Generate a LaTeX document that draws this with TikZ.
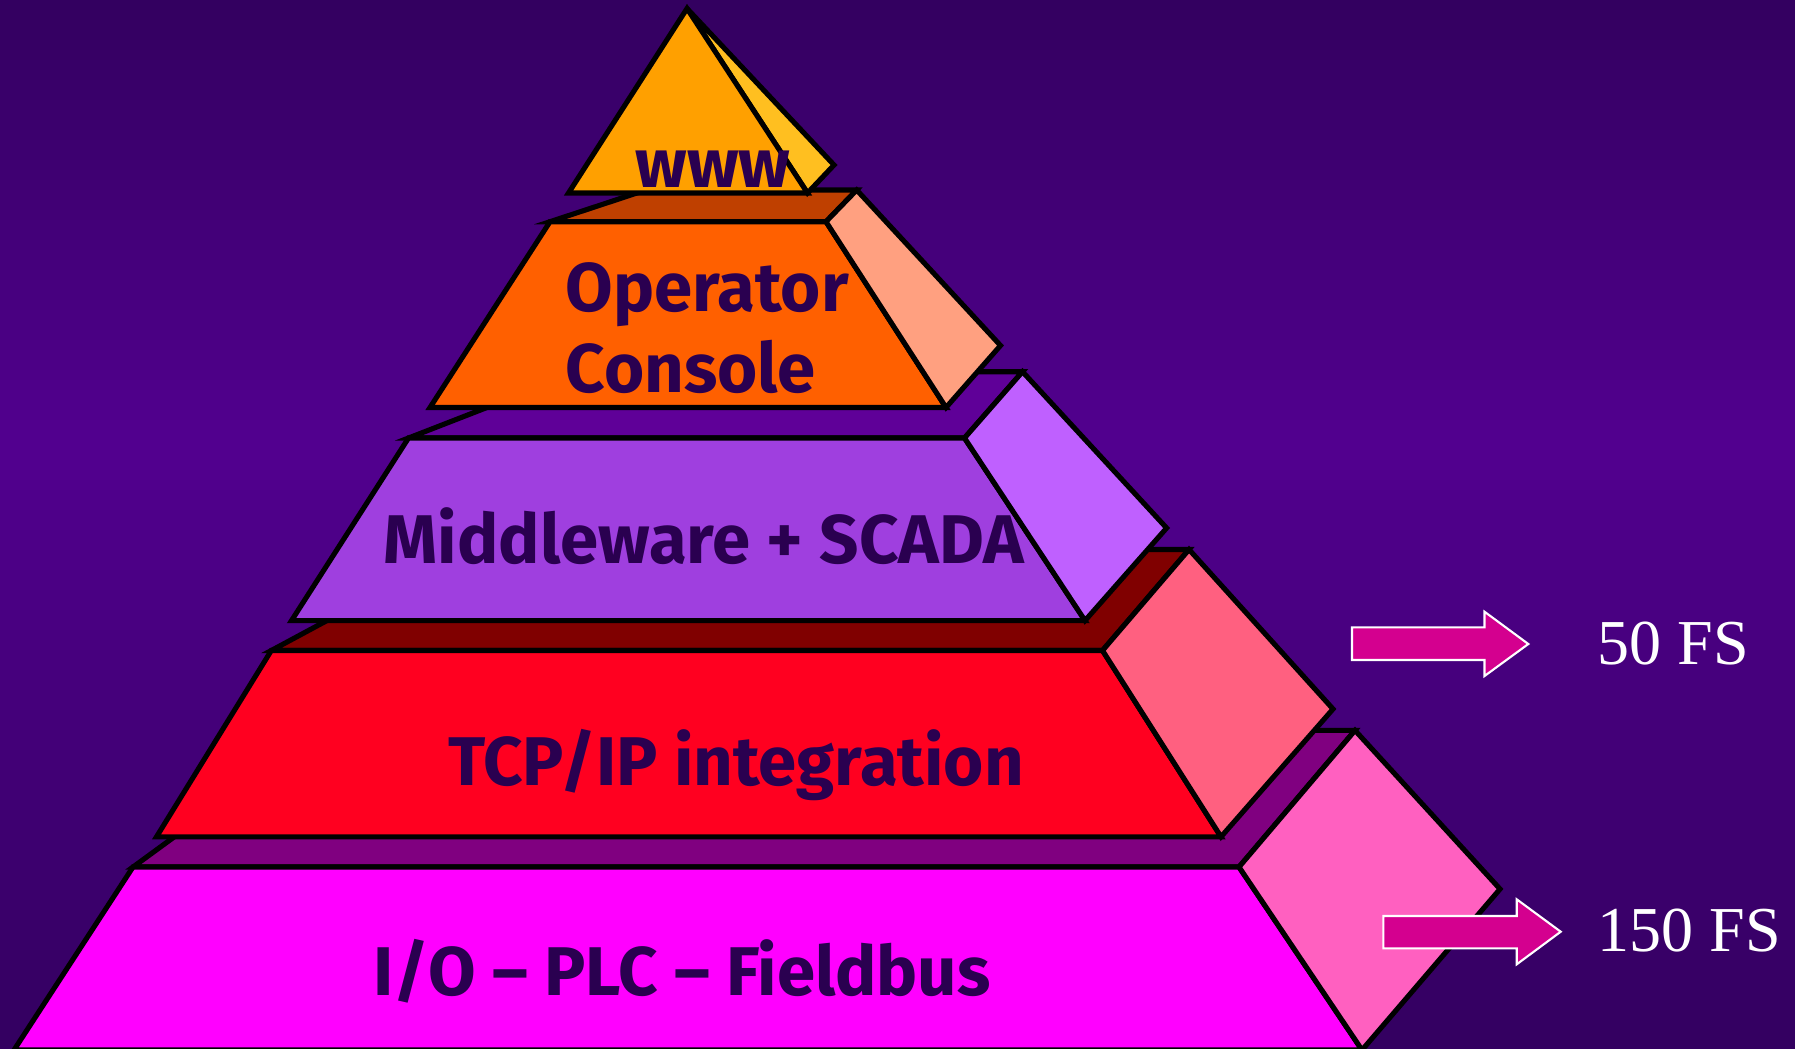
\documentclass[tikz,border=0pt]{standalone}
\usepackage{fontspec}
\newfontfamily\labfont{Fira Sans}
\newfontfamily\fsfont{Liberation Serif}
\definecolor{bgtop}{HTML}{330060}
\definecolor{bgmid}{HTML}{52008F}
\definecolor{bgbot}{HTML}{310056}
\definecolor{txt}{HTML}{2A0050}
\definecolor{wwwfront}{HTML}{FFA000}
\definecolor{wwwside}{HTML}{FFBF20}
\definecolor{opback}{HTML}{BF4000}
\definecolor{opfront}{HTML}{FF6000}
\definecolor{opside}{HTML}{FFA080}
\definecolor{mwback}{HTML}{5F0098}
\definecolor{mwfront}{HTML}{9F3FDF}
\definecolor{mwside}{HTML}{BF60FF}
\definecolor{tcpback}{HTML}{800000}
\definecolor{tcpfront}{HTML}{FF0020}
\definecolor{tcpside}{HTML}{FF6080}
\definecolor{fbback}{HTML}{800080}
\definecolor{fbfront}{HTML}{FF00FF}
\definecolor{fbside}{HTML}{FF60C0}
\definecolor{arrowfill}{HTML}{D4008F}
\tikzset{
  face/.style={draw=black, line width=1.45pt, line join=miter},
  lab/.style={text=txt, inner sep=0pt, font=\labfont\bfseries\fontsize{19.6pt}{23pt}\selectfont},
  fslab/.style={text=white, inner sep=0pt, font=\fsfont\fontsize{18.2pt}{22pt}\selectfont},
  fatarrow/.style={fill=arrowfill, draw=white, line width=0.6pt, line join=miter}
}
\begin{document}
\begin{tikzpicture}[x=0.01cm, y=-0.01cm]
\useasboundingbox (0,0) rectangle (1795,1048);
% background gradient built from thin strips
\foreach \i in {0,...,104} {
  \pgfmathsetmacro{\ya}{\i*10}
  \pgfmathsetmacro{\yb}{\i*10+11}
  \pgfmathsetmacro{\p}{\i<44 ? 100*\i/44 : 100*(104-\i)/60}
  \fill[bgmid!\p!bgtop] (0,\ya) rectangle (1795,\yb);
}

% I/O - PLC - Fieldbus slab
\filldraw[face, fill=fbback] (133,867) -- (320,730.4) -- (1355,730.4) -- (1239,867) -- cycle;
\filldraw[face, fill=fbfront] (133,867) -- (1239,867) -- (1362,1050) -- (14,1050) -- cycle;
\filldraw[face, fill=fbside] (1239,867) -- (1355,730.4) -- (1500,889) -- (1362,1050) -- cycle;

% TCP/IP slab
\filldraw[face, fill=tcpback] (271.3,650.5) -- (459,549.5) -- (1189,549.5) -- (1102.5,650.5) -- cycle;
\filldraw[face, fill=tcpfront] (271.3,650.5) -- (1102.5,650.5) -- (1221,836.8) -- (156.5,836.8) -- cycle;
\filldraw[face, fill=tcpside] (1102.5,650.5) -- (1189,549.5) -- (1333,709) -- (1221,836.8) -- cycle;

% Middleware slab
\filldraw[face, fill=mwback] (408.5,438) -- (579,371.7) -- (1022.5,371.7) -- (964.5,438) -- cycle;
\filldraw[face, fill=mwfront] (408.5,438) -- (964.5,438) -- (1085,620.6) -- (291.5,620.6) -- cycle;
\filldraw[face, fill=mwside] (964.5,438) -- (1022.5,371.7) -- (1166.6,528) -- (1085,620.6) -- cycle;

% Operator Console slab
\filldraw[face, fill=opback] (550,221.7) -- (646,190) -- (856.7,190) -- (826,221.7) -- cycle;
\filldraw[face, fill=opfront] (550,221.7) -- (826,221.7) -- (946,407.5) -- (430,407.5) -- cycle;
\filldraw[face, fill=opside] (826,221.7) -- (856.7,190) -- (1000.5,345.5) -- (946,407.5) -- cycle;

% www pyramid
\filldraw[face, fill=wwwside] (687,8.5) -- (834,165) -- (807.5,193) -- cycle;
\filldraw[face, fill=wwwfront] (687,8.5) -- (807.5,193) -- (568.5,193) -- cycle;

% labels
\node[lab, anchor=base] (www) at (713,187) {www};
\node[lab, anchor=base west, align=left] (op) at (565,392.7) {Operator\\Console};
\node[lab, anchor=base] (mw) at (704,563) {Middleware + SCADA};
\node[lab, anchor=base] (tcp) at (736,785.5) {TCP/IP integration};
\node[lab, anchor=base] (fb) at (682,995) {I/O – PLC – Fieldbus};

% arrows
\filldraw[fatarrow] (1352,627.3) -- (1484.5,627.3) -- (1484.5,611.7) -- (1528.3,644) -- (1484.5,676) -- (1484.5,660) -- (1352,660) -- cycle;
\filldraw[fatarrow] (1383.3,916) -- (1516.7,916) -- (1516.7,899.3) -- (1560.7,931.7) -- (1516.7,964.3) -- (1516.7,948.3) -- (1383.3,948.3) -- cycle;
\node[fslab, anchor=base west] (fs50) at (1596.7,664) {50 FS};
\node[fslab, anchor=base west] (fs150) at (1596.7,951.7) {150 FS};
\end{tikzpicture}
\end{document}
